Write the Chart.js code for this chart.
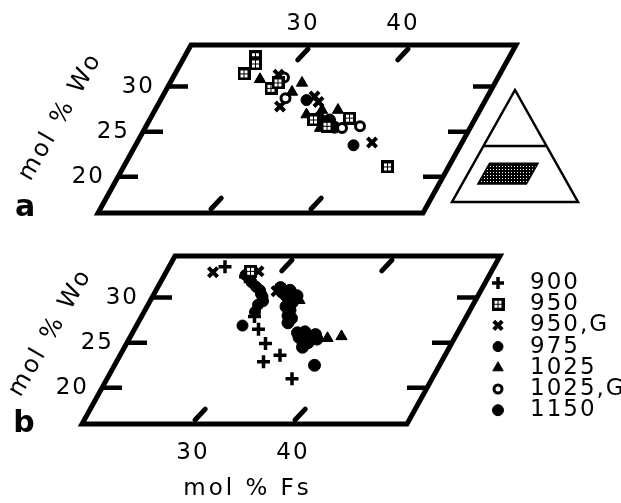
<!DOCTYPE html>
<html>
<head>
<meta charset="utf-8">
<script src="https://cdn.jsdelivr.net/npm/chart.js@4/dist/chart.umd.min.js"></script>
<style>
  body { margin: 0; background: #fff; }
  #wrap { position: relative; width: 621px; height: 503px; }
  canvas { position: absolute; left: 0; }
  #chartA { top: 0; }
  #chartB { top: 240px; }
</style>
</head>
<body>
<div id="wrap">
  <canvas id="chartA" width="621" height="240"></canvas>
  <canvas id="chartB" width="621" height="263"></canvas>
</div>
<script>
const seriesLabels = ['900', '950', '950,G', '975', '1025', '1025,G', '1150'];

// panel a, pairs of [mol % Fs, mol % Wo]
const a900 = [];
const a950 = [[25.6, 33.3], [26.0, 32.5], [25.4, 31.4], [28.9, 29.8], [29.3, 30.4], [34.9, 26.3], [38.4, 26.5], [44.9, 21.1], [36.6, 25.6]];
const a950G = [[30.8, 27.8], [33.7, 28.9], [42.0, 23.8], [28.9, 31.3], [34.4, 28.3]];
const a975 = [[40.3, 23.5], [33.1, 28.5], [35.3, 26.6]];
const a1025 = [[27.3, 30.8], [31.7, 30.4], [31.2, 29.4], [35.2, 27.4], [33.9, 26.9], [36.8, 27.4], [36.0, 25.4]];
const a1025G = [[29.6, 31.0], [30.9, 28.7], [38.2, 25.4], [39.9, 25.6]];
const a1150 = [[36.5, 26.3], [37.4, 25.5]];

// panel b
const b900 = [[24.1, 33.4], [26.7, 32.3], [29.8, 27.9], [30.9, 26.5], [32.4, 24.9], [33.2, 22.9], [34.5, 23.6], [37.0, 21.0]];
const b950 = [[26.9, 32.9]];
const b950G = [[23.2, 32.8], [27.7, 32.9], [30.6, 30.7]];
const b975 = [[26.6, 32.5], [27.6, 31.7], [28.3, 31.2], [28.9, 30.8], [29.2, 30.4], [29.5, 30.1], [29.8, 29.6],
              [29.5, 29.2], [29.6, 28.4], [29.1, 26.9]];
const b1025 = [[38.3, 25.5], [39.6, 25.7], [33.4, 29.7]];
const b1025G = [];
const b1150 = [[30.8, 31.1], [31.9, 30.8], [32.9, 30.2], [32.8, 29.5], [33.0, 28.6], [33.6, 27.7], [33.5, 27.2], [31.8, 30.2],
               [31.2, 30.6], [32.2, 30.5], [32.3, 29.9], [32.4, 29.0], [33.1, 28.0],
               [35.0, 26.1], [35.7, 26.2], [36.7, 25.6], [36.6, 25.0], [36.3, 24.5], [36.9, 25.9], [35.4, 25.6],
               [36.1, 25.0], [37.3, 25.4], [38.5, 22.5]];

const woTicks = [20, 25, 30];
const fsTicks = [30, 40];

// edges of the quadrilateral frame (mol %)
const FS_MIN = 18.5, FS_MAX = 51;
const WO_MIN = 16, WO_MAX = 34.6;
const SHEAR = 0.5;   // lines of constant Fs lean like the En-Wo side

const FONT = '"DejaVu Sans", sans-serif';

function toXY(pairs) {
  return pairs.map(p => ({ x: p[0] + SHEAR * p[1], y: p[1] }));
}

// boxed square marker for 950
function boxIcon() {
  const c = document.createElement('canvas');
  c.width = 13; c.height = 13;
  const g = c.getContext('2d');
  g.fillStyle = '#000';
  g.fillRect(0, 0, 13, 13);
  g.fillStyle = '#fff';
  g.fillRect(3, 3, 3, 3); g.fillRect(7, 3, 3, 3);
  g.fillRect(3, 7, 3, 3); g.fillRect(7, 7, 3, 3);
  return c;
}

const styles = [
  { pointStyle: 'cross', pointRadius: 6.5, pointBorderWidth: 3.5, pointBackgroundColor: '#000' },
  { pointStyle: boxIcon(), pointRadius: 6, pointBorderWidth: 0, pointBackgroundColor: '#000' },
  { pointStyle: 'crossRot', pointRadius: 6.5, pointBorderWidth: 4, pointBackgroundColor: '#000' },
  { pointStyle: 'circle', pointRadius: 5.5, pointBorderWidth: 1, pointBackgroundColor: '#000' },
  { pointStyle: 'triangle', pointRadius: 6.5, pointBorderWidth: 1, pointBackgroundColor: '#000' },
  { pointStyle: 'circle', pointRadius: 4.5, pointBorderWidth: 3, pointBackgroundColor: '#fff' },
  { pointStyle: 'circle', pointRadius: 6, pointBorderWidth: 1, pointBackgroundColor: '#000' }
];

function makeDatasets(lists) {
  return lists.map((pairs, i) => Object.assign({
    label: seriesLabels[i],
    data: toXY(pairs),
    pointBorderColor: '#000',
    showLine: false
  }, styles[i]));
}

function text(ctx, str, x, y, size, align, spacing, rot, weight) {
  ctx.save();
  ctx.translate(x, y);
  if (rot) ctx.rotate(rot * Math.PI / 180);
  ctx.font = (weight || '') + ' ' + size + 'px ' + FONT;
  ctx.letterSpacing = spacing + 'px';
  ctx.textAlign = align;
  ctx.textBaseline = 'middle';
  ctx.fillStyle = '#000';
  ctx.fillText(str, align === 'center' ? spacing / 2 : 0, 0);
  ctx.restore();
}

function framePlugin(o) {
  return {
    id: 'frame',
    beforeDatasetsDraw(chart) {
      const ctx = chart.ctx, xs = chart.scales.x, ys = chart.scales.y;
      const P = (fs, wo) => ({ x: xs.getPixelForValue(fs + SHEAR * wo), y: ys.getPixelForValue(wo) });
      ctx.save();
      ctx.strokeStyle = '#000';
      ctx.lineWidth = 5;
      ctx.lineJoin = 'miter';
      const c = [P(FS_MIN, WO_MIN), P(FS_MAX, WO_MIN), P(FS_MAX, WO_MAX), P(FS_MIN, WO_MAX)];
      ctx.beginPath();
      ctx.moveTo(c[0].x, c[0].y);
      c.slice(1).forEach(p => ctx.lineTo(p.x, p.y));
      ctx.closePath();
      ctx.stroke();

      // Wo ticks on both sloping sides
      ctx.lineWidth = 4.5;
      woTicks.forEach(wo => {
        const l = P(FS_MIN, wo), r = P(FS_MAX, wo);
        ctx.beginPath();
        ctx.moveTo(l.x, l.y); ctx.lineTo(l.x + 20, l.y);
        ctx.moveTo(r.x, r.y); ctx.lineTo(r.x - 20, r.y);
        ctx.stroke();
        text(ctx, String(wo), l.x - 13, l.y, 23, 'right', 2);
      });

      // Fs ticks on top and bottom, along lines of constant Fs
      ctx.lineCap = 'round';
      ctx.lineWidth = 5;
      fsTicks.forEach(fs => {
        const t = P(fs, WO_MAX), b = P(fs, WO_MIN);
        const len = Math.hypot(b.x - t.x, b.y - t.y);
        const ux = (b.x - t.x) / len * 17, uy = (b.y - t.y) / len * 17;
        ctx.beginPath();
        ctx.moveTo(t.x + 2, t.y + 4); ctx.lineTo(t.x + ux, t.y + uy);
        ctx.moveTo(b.x - 2, b.y - 4); ctx.lineTo(b.x - ux, b.y - uy);
        ctx.stroke();
        if (o.fsLabels === 'top') text(ctx, String(fs), t.x - 4, t.y - 21, 23, 'center', 2);
        else text(ctx, String(fs), b.x - 5, b.y + 29, 23, 'center', 2);
      });
      ctx.restore();

      text(ctx, 'mol % Wo', o.titleX, o.titleY, 24, 'center', 3, -60);
      text(ctx, o.letter, o.letterX, o.letterY, 30, 'center', 0, 0, 'bold');
      if (o.fsTitle) text(ctx, 'mol % Fs', o.fsTitle[0], o.fsTitle[1], 23, 'center', 3);
    }
  };
}

// small ternary diagram showing where the frame sits
const insetPlugin = {
  id: 'inset',
  afterDraw(chart) {
    const ctx = chart.ctx;
    const L = 452, B = 202, W = 126, H = 112;
    const T = (fs, wo) => ({ x: L + W * (fs + wo / 2) / 100, y: B - H * wo / 100 });
    ctx.save();
    const pat = document.createElement('canvas');
    pat.width = 3; pat.height = 3;
    const g = pat.getContext('2d');
    g.fillStyle = '#000'; g.fillRect(0, 0, 3, 3);
    g.fillStyle = '#fff'; g.fillRect(1, 1, 1, 1);
    const q = [T(FS_MIN - 6, WO_MIN), T(FS_MAX, WO_MIN), T(FS_MAX, WO_MAX), T(FS_MIN - 6, WO_MAX)];
    ctx.beginPath();
    ctx.moveTo(q[0].x, q[0].y);
    q.slice(1).forEach(p => ctx.lineTo(p.x, p.y));
    ctx.closePath();
    ctx.fillStyle = ctx.createPattern(pat, 'repeat');
    ctx.fill();
    ctx.strokeStyle = '#000';
    ctx.lineWidth = 1.5;
    ctx.stroke();

    ctx.lineWidth = 2.5;
    ctx.lineJoin = 'miter';
    const a = T(0, 0), b = T(100, 0), c = T(0, 100);
    ctx.beginPath();
    ctx.moveTo(a.x, a.y); ctx.lineTo(b.x, b.y); ctx.lineTo(c.x, c.y); ctx.closePath();
    ctx.stroke();
    const m1 = T(0, 50), m2 = T(50, 50);
    ctx.beginPath();
    ctx.moveTo(m1.x, m1.y); ctx.lineTo(m2.x, m2.y);
    ctx.stroke();
    ctx.restore();
  }
};

const legendPlugin = {
  id: 'sideLegend',
  afterDraw(chart) {
    const ctx = chart.ctx;
    chart.data.datasets.forEach((ds, i) => {
      const y = 43 + i * 21.2;
      ctx.save();
      ctx.fillStyle = ds.pointBackgroundColor;
      ctx.strokeStyle = '#000';
      ctx.lineWidth = ds.pointBorderWidth;
      Chart.helpers.drawPoint(ctx, { pointStyle: ds.pointStyle, radius: ds.pointRadius - 0.5, borderWidth: ds.pointBorderWidth, rotation: 0 }, 498, y);
      ctx.restore();
      text(ctx, ds.label, 530, y, 23, 'left', 2);
    });
  }
};

function makeChart(id, lists, padding, plugins) {
  return new Chart(document.getElementById(id), {
    type: 'scatter',
    data: { datasets: makeDatasets(lists) },
    options: {
      responsive: false,
      animation: false,
      events: [],
      layout: { padding: padding },
      scales: {
        x: { type: 'linear', display: false, min: FS_MIN + SHEAR * WO_MIN, max: FS_MAX + SHEAR * WO_MAX },
        y: { type: 'linear', display: false, min: WO_MIN, max: WO_MAX }
      },
      plugins: { legend: { display: false }, tooltip: { enabled: false } }
    },
    plugins: plugins
  });
}

makeChart('chartA', [a900, a950, a950G, a975, a1025, a1025G, a1150],
  { left: 98, right: 105, top: 45, bottom: 27 },
  [framePlugin({ fsLabels: 'top', titleX: 60, titleY: 118, letter: 'a', letterX: 25, letterY: 208 }), insetPlugin]);

makeChart('chartB', [b900, b950, b950G, b975, b1025, b1025G, b1150],
  { left: 82, right: 121, top: 16, bottom: 79 },
  [framePlugin({ fsLabels: 'bottom', titleX: 50, titleY: 94, letter: 'b', letterX: 24, letterY: 184, fsTitle: [246, 249] }), legendPlugin]);
</script>
</body>
</html>
